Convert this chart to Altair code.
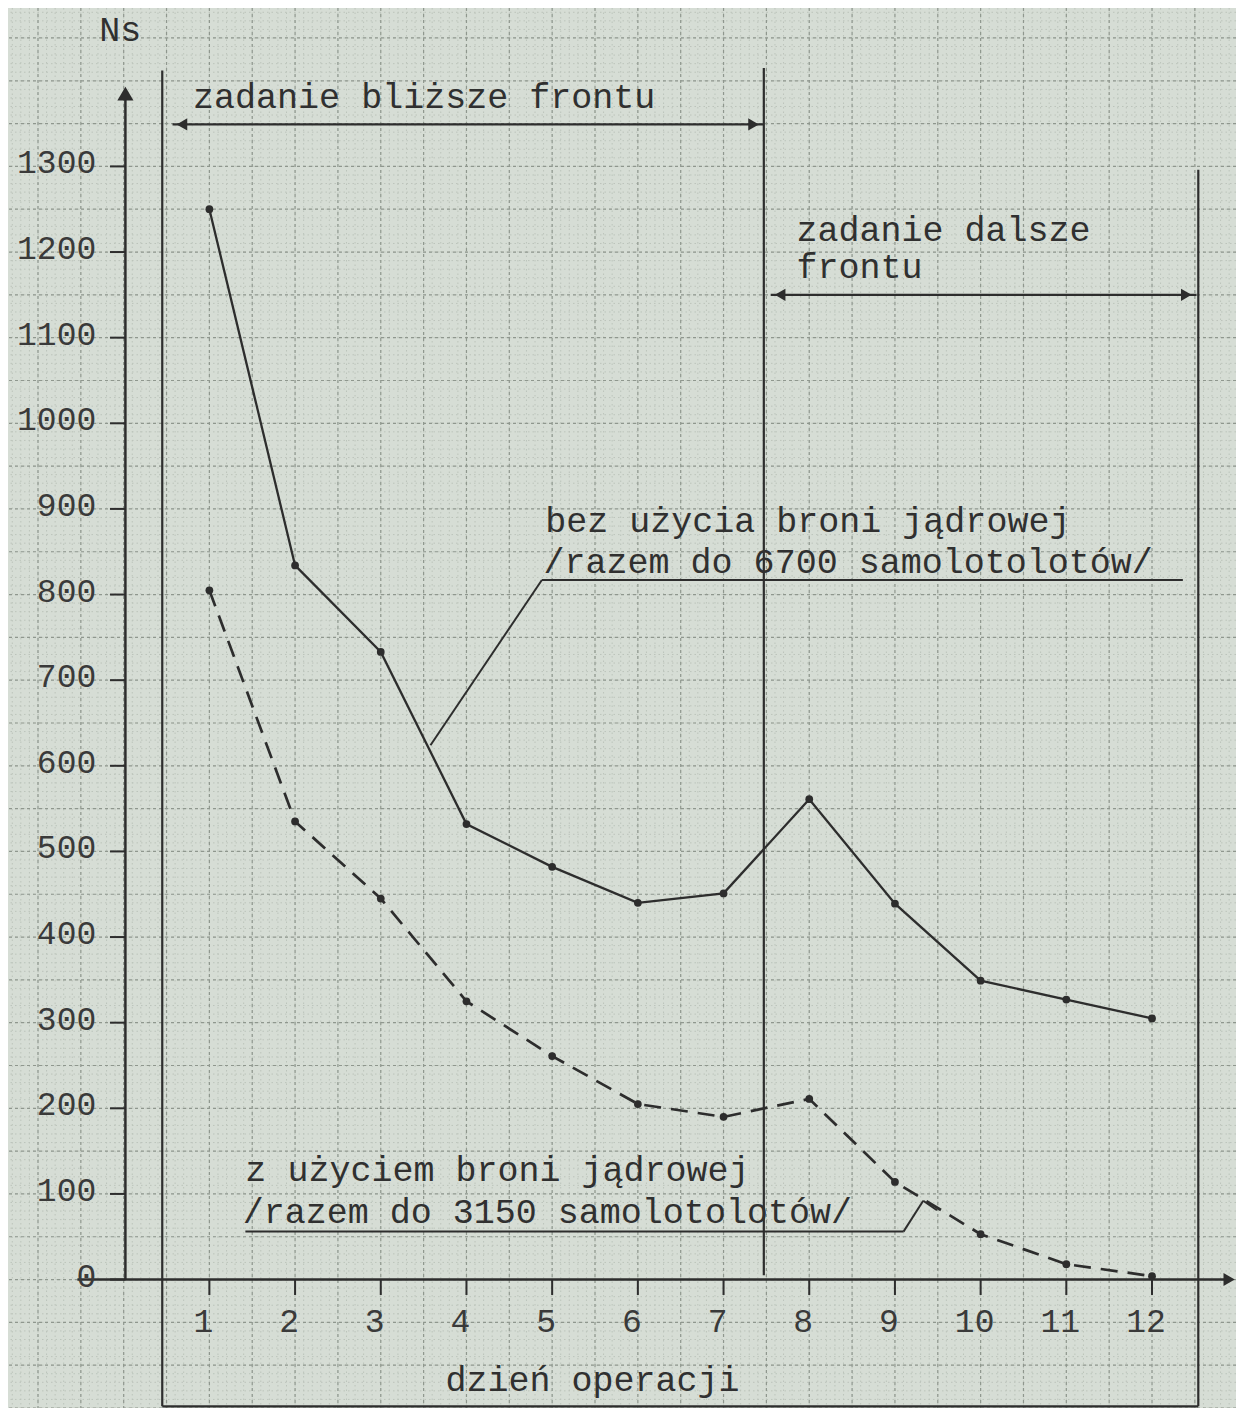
import altair as alt
import pandas as pd
import numpy as np

# ---------------- data ----------------
days = [1, 2, 3, 4, 5, 6, 7, 8, 9, 10, 11, 12]
bez_broni = [1250, 834, 733, 532, 482, 440, 451, 561, 439, 349, 327, 305]   # solid
z_bronia = [805, 535, 445, 325, 261, 205, 190, 211, 114, 53, 18, 4]        # dashed

y_ticks = [0, 100, 200, 300, 400, 500, 600, 700, 800, 900, 1000, 1100, 1200, 1300]
x_tick_labels = ["1", "2", "3", "4", "5", "6", "7", "8", "9", "10", "11", "12"]

y_title = "Ns"
x_title = "dzień operacji"
phase1 = "zadanie bliższe frontu"
phase2_lines = ["zadanie dalsze", "frontu"]
label_solid = ["bez użycia broni jądrowej", "/razem do 6700 samolotolotów/"]
label_dashed = ["z użyciem broni jądrowej", "/razem do 3150 samolotolotów/"]

# ---------------- style ----------------
INK = "#2d2d2d"
BG = "#d6ddd5"
FONT = "Liberation Mono"
X_DOM = [-1.35, 12.98]
Y_DOM = [-150, 1485]

xs = alt.Scale(domain=X_DOM, nice=False, zero=False)
ys = alt.Scale(domain=Y_DOM, nice=False, zero=False)


def X(f="x"):
    return alt.X(f, type="quantitative", scale=xs, axis=None)


def Y(f="y"):
    return alt.Y(f, type="quantitative", scale=ys, axis=None)


# ---------------- graph-paper grid ----------------
def vgrid(vals, color, dash, width):
    df = pd.DataFrame({"x": vals})
    return alt.Chart(df).mark_rule(color=color, strokeDash=dash, strokeWidth=width).encode(x=X())


def hgrid(vals, color, dash, width):
    df = pd.DataFrame({"y": vals})
    return alt.Chart(df).mark_rule(color=color, strokeDash=dash, strokeWidth=width).encode(y=Y())


fine_x = [round(float(v), 2) for v in np.arange(-1.3, 13.0, 0.1)]
fine_y = [int(v) for v in np.arange(-150, 1490, 10)]
half_x = [round(float(v), 2) for v in np.arange(-1.0, 13.0, 0.5)]
half_y = [int(v) for v in np.arange(-150, 1490, 50)]

grid = [
    vgrid(fine_x, "#bcc4bb", [1.5, 3], 1),
    hgrid(fine_y, "#bcc4bb", [1.5, 3], 1),
    vgrid(half_x, "#8f978e", [3, 3], 1.2),
    hgrid(half_y, "#8f978e", [3, 3], 1.2),
]

# ---------------- frame, axes and bracket lines ----------------
def segs(rows, width):
    df = pd.DataFrame(rows, columns=["x", "y", "x2", "y2"])
    return alt.Chart(df).mark_rule(color=INK, strokeWidth=width).encode(
        x=X(), y=Y(), x2=alt.X2("x2"), y2=alt.Y2("y2")
    )


axes_layer = segs([
    (-0.54, 0, 12.9, 0),
    (0.02, 0, 0.02, 1390),
], 2.5)

frame_layer = segs([
    (0.45, 1412, 0.45, -148),
    (7.47, 1415, 7.47, 5),
    (12.54, 1296, 12.54, -148),
    (0.45, -148, 12.54, -148),
    (0.57, 1349, 7.47, 1349),
    (7.55, 1150, 12.52, 1150),
], 2.2)

leader_layer = segs([
    (4.88, 817, 12.36, 817),
    (4.88, 817, 3.58, 624),
    (1.42, 56, 9.10, 56),
    (9.10, 56, 9.33, 92),
    (9.33, 92, 9.49, 81),
], 2.0)

arrows = pd.DataFrame([
    dict(x=0.02, y=1385, shape="triangle-up", s=260),
    dict(x=12.9, y=0, shape="triangle-right", s=170),
    dict(x=0.68, y=1349, shape="triangle-left", s=150),
    dict(x=7.35, y=1349, shape="triangle-right", s=150),
    dict(x=7.66, y=1150, shape="triangle-left", s=150),
    dict(x=12.40, y=1150, shape="triangle-right", s=150),
])
arrow_layer = alt.Chart(arrows).mark_point(filled=True, color=INK, opacity=1).encode(
    x=X(), y=Y(), shape=alt.Shape("shape:N", scale=None), size=alt.Size("s:Q", scale=None)
)

# ---------------- ticks ----------------
ytick_df = pd.DataFrame({
    "y": y_ticks,
    "label": [str(v) for v in y_ticks],
    "x": [-0.16] * len(y_ticks),
    "x2": [0.02] * len(y_ticks),
    "lx": [-0.32] * len(y_ticks),
})
ytick_marks = alt.Chart(ytick_df).mark_rule(color=INK, strokeWidth=2).encode(
    x=X(), x2=alt.X2("x2"), y=Y()
)
ytick_labels = alt.Chart(ytick_df).mark_text(
    font=FONT, fontSize=33, color="#3a3a3a", align="right", baseline="middle", dy=-3
).encode(x=X("lx"), y=Y(), text="label:N")

xtick_df = pd.DataFrame({
    "x": days,
    "label": x_tick_labels,
    "y": [0] * len(days),
    "y2": [-18] * len(days),
    "ly": [-49] * len(days),
})
xtick_marks = alt.Chart(xtick_df).mark_rule(color=INK, strokeWidth=2).encode(
    x=X(), y=Y(), y2=alt.Y2("y2")
)
xtick_labels = alt.Chart(xtick_df).mark_text(
    font=FONT, fontSize=33, color="#3a3a3a", align="center", baseline="middle", dx=-6
).encode(x=X(), y=Y("ly"), text="label:N")

# ---------------- texts ----------------
left_texts = pd.DataFrame([
    dict(t=phase1, x=0.81, y=1381),
    dict(t=phase2_lines[0], x=7.85, y=1226),
    dict(t=phase2_lines[1], x=7.85, y=1182),
    dict(t=label_solid[0], x=4.92, y=886),
    dict(t=label_solid[1], x=4.90, y=838),
    dict(t=label_dashed[0], x=1.42, y=128),
    dict(t=label_dashed[1], x=1.39, y=79),
])
center_texts = pd.DataFrame([
    dict(t=y_title, x=-0.04, y=1459),
    dict(t=x_title, x=5.47, y=-117),
])
text_left = alt.Chart(left_texts).mark_text(
    font=FONT, fontSize=35, color="#303030", align="left", baseline="middle"
).encode(x=X(), y=Y(), text="t:N")
text_center = alt.Chart(center_texts).mark_text(
    font=FONT, fontSize=35, color="#303030", align="center", baseline="middle"
).encode(x=X(), y=Y(), text="t:N")

# ---------------- series ----------------
solid_df = pd.DataFrame({"x": days, "y": bez_broni})
dashed_df = pd.DataFrame({"x": days, "y": z_bronia})
solid_line = alt.Chart(solid_df).mark_line(color=INK, strokeWidth=2.3).encode(x=X(), y=Y())
dashed_line = alt.Chart(dashed_df).mark_line(
    color=INK, strokeWidth=2.7, strokeDash=[17, 10]
).encode(x=X(), y=Y())
pts_solid = alt.Chart(solid_df).mark_circle(color=INK, size=60, opacity=1).encode(x=X(), y=Y())
pts_dashed = alt.Chart(dashed_df).mark_circle(color=INK, size=60, opacity=1).encode(x=X(), y=Y())

chart = alt.layer(
    *grid, axes_layer, frame_layer, leader_layer, arrow_layer,
    ytick_marks, ytick_labels, xtick_marks, xtick_labels,
    text_left, text_center, solid_line, dashed_line, pts_solid, pts_dashed
).properties(
    width=1228, height=1400, background=BG, padding=0,
    autosize=alt.AutoSizeParams(type="none"),
).configure_view(stroke=None)

chart.save("out.html", embed_options={"renderer": "svg", "actions": False})
